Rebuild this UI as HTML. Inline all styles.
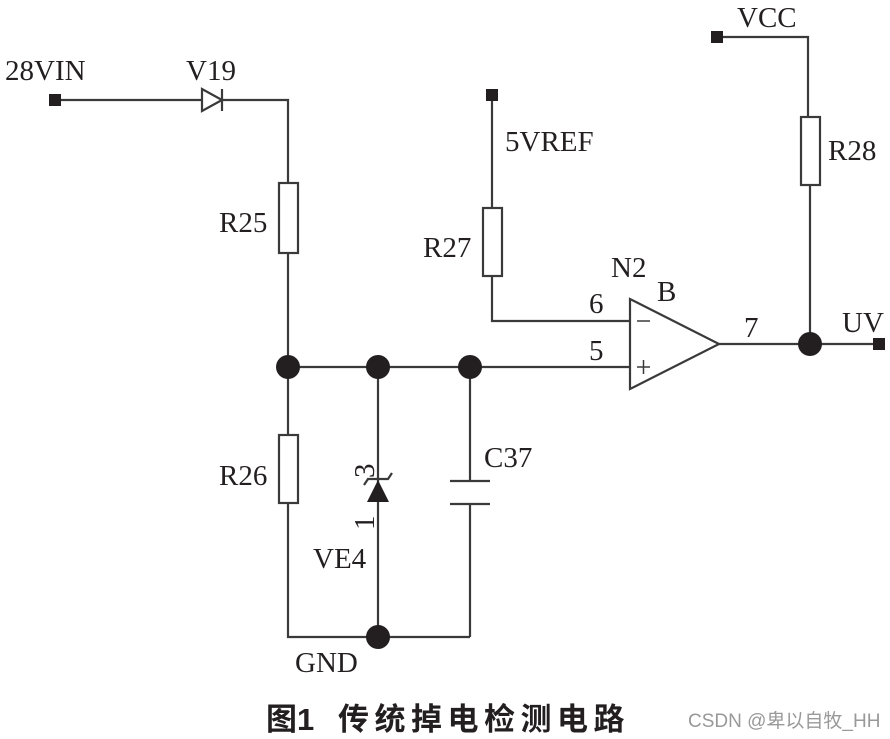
<!DOCTYPE html>
<html><head><meta charset="utf-8"><style>
html,body{margin:0;padding:0;background:#fff;width:890px;height:739px;overflow:hidden}
svg{display:block}
text{font-family:"Liberation Serif",serif;font-size:29px;fill:#231f20}
.cap{font-family:"Liberation Sans","Noto Sans CJK SC",sans-serif;font-size:31px;font-weight:bold;fill:#231f20}
.wm{font-family:"Liberation Sans","Noto Sans CJK SC",sans-serif;font-size:19px;fill:#999}
</style></head><body>
<svg width="890" height="739" viewBox="0 0 890 739">
<g stroke="#3a3a3a" stroke-width="2.2" fill="none">
<polyline points="55,100 288,100 288,183"/>
<rect x="279" y="183" width="19" height="70" fill="#fff"/>
<line x1="288" y1="253" x2="288" y2="435"/>
<rect x="279" y="435" width="19" height="68" fill="#fff"/>
<polyline points="288,503 288,637 470,637"/>
<line x1="288" y1="367" x2="630" y2="367"/>
<line x1="378" y1="367" x2="378" y2="637"/>
<line x1="470" y1="367" x2="470" y2="481"/>
<line x1="470" y1="504" x2="470" y2="637"/>
<line x1="450" y1="481" x2="490" y2="481"/>
<line x1="450" y1="504" x2="490" y2="504"/>
<line x1="492" y1="95" x2="492" y2="208"/>
<rect x="483" y="208" width="19" height="68" fill="#fff"/>
<polyline points="492,276 492,321 630,321"/>
<polyline points="717,37 808,37 808,117"/>
<rect x="801" y="117" width="19" height="68" fill="#fff"/>
<line x1="810" y1="185" x2="810" y2="344"/>
<polygon points="630,299 630,389 719,344" fill="#fff"/>
<line x1="719" y1="344" x2="880" y2="344"/>
<polygon points="202,89 202,111 222,100" fill="#fff"/>
<line x1="222" y1="89" x2="222" y2="111"/>
<polyline points="364,485 368,479 388,479 392,473"/>
</g>
<polygon points="367,502 389,502 378,480" fill="#231f20"/>
<g fill="#231f20">
<circle cx="288" cy="367" r="12"/>
<circle cx="378" cy="367" r="12"/>
<circle cx="470" cy="367" r="12"/>
<circle cx="378" cy="637" r="12"/>
<circle cx="810" cy="344" r="12"/>
<rect x="49" y="94" width="12" height="12"/>
<rect x="486" y="89" width="12" height="12"/>
<rect x="711" y="31" width="12" height="12"/>
<rect x="873" y="338" width="12" height="12"/>
</g>
<g stroke="#3a3a3a" stroke-width="1.5">
<line x1="637" y1="321" x2="650" y2="321"/>
<line x1="637" y1="367" x2="650" y2="367"/>
<line x1="643.5" y1="360" x2="643.5" y2="374"/>
</g>
<text x="5" y="80">28VIN</text>
<text x="186" y="80">V19</text>
<text x="219" y="232">R25</text>
<text x="219" y="485">R26</text>
<text x="505" y="151">5VREF</text>
<text x="423" y="257">R27</text>
<text x="737" y="27">VCC</text>
<text x="828" y="160">R28</text>
<text x="611" y="277">N2</text>
<text x="657" y="301">B</text>
<text x="589" y="313">6</text>
<text x="589" y="360">5</text>
<text x="744" y="337">7</text>
<text x="842" y="332">UV</text>
<text x="484" y="467">C37</text>
<text x="313" y="568">VE4</text>
<text x="295" y="672">GND</text>
<text transform="translate(374,478) rotate(-90)">3</text>
<text transform="translate(374,530) rotate(-90)">1</text>
<text class="cap" x="266" y="730">图1</text>
<text class="cap" x="338" y="730" style="letter-spacing:5.5px">传统掉电检测电路</text>
<text class="wm" x="688" y="727">CSDN @卑以自牧_HH</text>
</svg>
</body></html>
